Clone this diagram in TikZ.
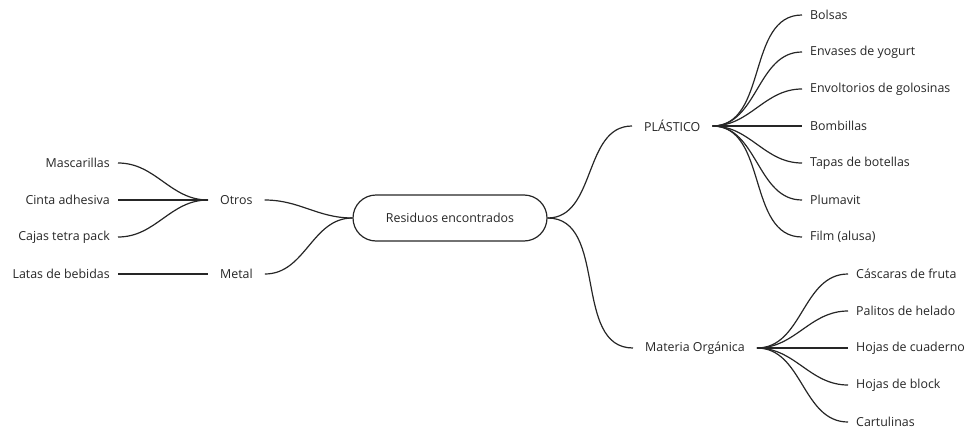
\documentclass[tikz,border=0pt]{standalone}
\usepackage{fontspec}
\setmainfont{Open Sans}
\usetikzlibrary{positioning}

\begin{document}
\begin{tikzpicture}[x=1pt,y=-1pt,
    every node/.style={font=\fontsize{12.4}{14}\selectfont,text=black!85},
    leaf/.style={inner xsep=8pt,inner ysep=2pt},
    group/.style={inner xsep=12pt,inner ysep=2pt},
    branch/.style={line width=1.2pt,black!85,out=0,in=180}]
      \useasboundingbox (0,0) rectangle (968,428);
      \node[draw,line width=1.2pt,black!85,rounded corners=23pt,minimum width=194pt,minimum height=46pt] (root) at (450,218) {Residuos encontrados};
      %
      \node[group,anchor=west] (otros) at (208,200) {Otros};
      \node[group,anchor=west] (metal) at (208,274) {Metal};
      \node[group,anchor=west] (plastico) at (632,126) {PLÁSTICO};
      \node[group,anchor=west] (organica) at (633,348) {Materia Orgánica};
      %
      \node[leaf,anchor=east] (mascarillas) at (118,163) {Mascarillas};
      \node[leaf,anchor=east] (cinta) at (118,200) {Cinta adhesiva};
      \node[leaf,anchor=east] (cajas) at (118,237) {Cajas tetra pack};
      \node[leaf,anchor=east] (latas) at (118,274) {Latas de bebidas};
      %
      \node[leaf,anchor=west] (bolsas) at (802,15) {Bolsas};
      \node[leaf,anchor=west] (envases) at (802,52) {Envases de yogurt};
      \node[leaf,anchor=west] (envoltorios) at (802,89) {Envoltorios de golosinas};
      \node[leaf,anchor=west] (bombillas) at (802,126) {Bombillas};
      \node[leaf,anchor=west] (tapas) at (802,163) {Tapas de botellas};
      \node[leaf,anchor=west] (plumavit) at (802,200) {Plumavit};
      \node[leaf,anchor=west] (film) at (802,237) {Film (alusa)};
      %
      \node[leaf,anchor=west] (cascaras) at (848,274) {Cáscaras de fruta};
      \node[leaf,anchor=west] (palitos) at (848,311) {Palitos de helado};
      \node[leaf,anchor=west] (cuaderno) at (848,348) {Hojas de cuaderno};
      \node[leaf,anchor=west] (block) at (848,385) {Hojas de block};
      \node[leaf,anchor=west] (cartulinas) at (848,422) {Cartulinas};
      %
      \draw[branch] (otros.east) to (root.west);
      \draw[branch] (metal.east) to (root.west);
      \draw[branch] (root.east) to (plastico.west);
      \draw[branch] (root.east) to (organica.west);
      %
      \draw[branch] (mascarillas.east) to (otros.west);
      \draw[branch] (cinta.east) to (otros.west);
      \draw[branch] (cajas.east) to (otros.west);
      \draw[branch] (latas.east) to (metal.west);
      %
      \foreach \leafname in {bolsas,envases,envoltorios,bombillas,tapas,plumavit,film}
        \draw[branch] (plastico.east) to (\leafname.west);
      \foreach \leafname in {cascaras,palitos,cuaderno,block,cartulinas}
        \draw[branch] (organica.east) to (\leafname.west);
\end{tikzpicture}
\end{document}
